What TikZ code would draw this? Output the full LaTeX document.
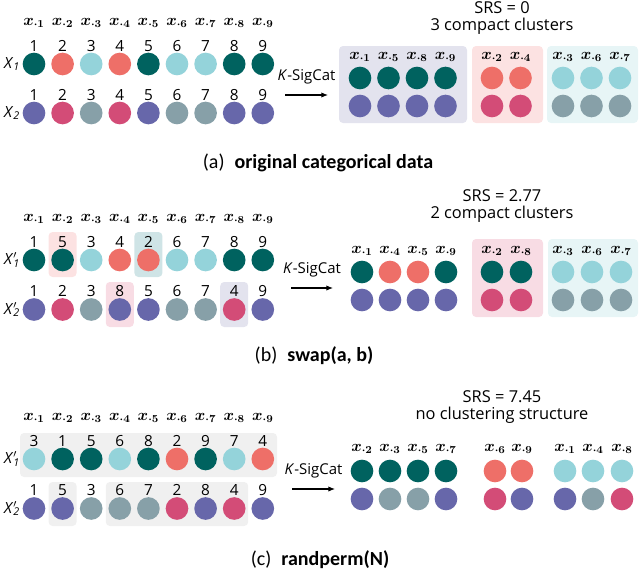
\documentclass[tikz,border=0pt]{standalone}
\usepackage{amsmath}
\usepackage{fontspec}
\setmainfont{Open Sans}
\newfontfamily\capfont{Carlito}
\usetikzlibrary{arrows.meta}

\definecolor{cTeal}{HTML}{00625F}
\definecolor{cSalmon}{HTML}{EE6F68}
\definecolor{cCyan}{HTML}{94D3DA}
\definecolor{cPurple}{HTML}{6767AA}
\definecolor{cMagenta}{HTML}{D34C77}
\definecolor{cGray}{HTML}{87A0A8}
\definecolor{bLav}{HTML}{E3E3EE}
\definecolor{bPink}{HTML}{FCE2E2}
\definecolor{bRose}{HTML}{F8DCE4}
\definecolor{bAqua}{HTML}{E7F5F6}
\definecolor{bTeal}{HTML}{CFE4E6}
\definecolor{bGray}{HTML}{F0F0F0}

\tikzset{
  dot/.style={circle, minimum size=17pt, inner sep=0pt, draw=none},
  every label/.style={inner sep=0.5pt, font=\fontsize{11.5}{13}\selectfont},
  xlab/.style={font=\fontsize{12}{14}\selectfont, inner sep=0pt},
  rowlab/.style={font=\fontsize{11.5}{13}\selectfont, inner sep=0pt},
  note/.style={font=\fontsize{12.3}{12.75}\selectfont, align=center, inner sep=0pt},
  kname/.style={font=\fontsize{11.2}{13}\selectfont, inner sep=0pt},
  capt/.style={font=\capfont\fontsize{15}{17}\selectfont, inner sep=0pt},
  cell/.style={rounded corners=3pt},
  kmap/.style={line width=0.8pt, -{Latex[length=5pt,width=4pt]}},
}

\begin{document}
\begin{tikzpicture}[x=0.75pt,y=-0.75pt]
\useasboundingbox (0,0) rectangle (640,571);

% (a)
\foreach \i in {1,...,9}
  \node[xlab] (ax\i) at ({34+28.6*(\i-1)},23) {$\boldsymbol{x_{\cdot\i}}$};
\node[rowlab] (aX1) at (12,64) {\textit{X}\textsubscript{\textit{1}}};
\node[rowlab] (aX2) at (12,113) {\textit{X}\textsubscript{\textit{2}}};
\foreach \n/\c [count=\i] in {1/cTeal,2/cSalmon,3/cCyan,4/cSalmon,5/cTeal,6/cCyan,7/cCyan,8/cTeal,9/cTeal}
  \node[dot,fill=\c,label=above:\n] (a1-\i) at ({34+28.6*(\i-1)},64) {};
\foreach \n/\c [count=\i] in {1/cPurple,2/cMagenta,3/cGray,4/cMagenta,5/cPurple,6/cGray,7/cGray,8/cPurple,9/cPurple}
  \node[dot,fill=\c,label=above:\n] (a2-\i) at ({34+28.6*(\i-1)},113) {};

\fill[bLav,cell] (339,46) rectangle (467,123);
\fill[bPink,cell] (472,46) rectangle (543,123);
\fill[bAqua,cell] (547,46) rectangle (638,123);
\node[note] (asrs) at (502,18) {SRS = 0\\3 compact clusters};
\foreach \j/\x/\ca/\cb in {1/360/cTeal/cPurple,5/388.5/cTeal/cPurple,8/417/cTeal/cPurple,9/445.5/cTeal/cPurple,
    2/492/cSalmon/cMagenta,4/520.5/cSalmon/cMagenta,3/563/cCyan/cGray,6/591.5/cCyan/cGray,7/620/cCyan/cGray}{
  \node[xlab] (rax\j) at (\x,57) {$\boldsymbol{x_{\cdot\j}}$};
  \node[dot,fill=\ca] (ra1-\j) at (\x,78) {};
  \node[dot,fill=\cb] (ra2-\j) at (\x,106) {};
}
\coordinate (aS) at (285,95);
\coordinate (aE) at (328,95);
\draw[kmap] (aS) -- node[kname,above=8pt] (ak) {\textit{K}-SigCat} (aE);
\node[capt] (capa) at (318,163) {(a)\enspace\textbf{original categorical data}};

% (b)
\fill[bPink,cell] (48.6,232) rectangle (76.6,277);
\fill[bTeal,cell] (134.4,232) rectangle (162.4,277);
\fill[bRose,cell] (105.8,282) rectangle (133.8,327);
\fill[bLav,cell] (220.2,282) rectangle (248.2,327);
\foreach \i in {1,...,9}
  \node[xlab] (bx\i) at ({34+28.6*(\i-1)},219) {$\boldsymbol{x_{\cdot\i}}$};
\node[rowlab] (bX1) at (12,260) {\textit{X}\rlap{$'$}\textsubscript{\textit{1}}};
\node[rowlab] (bX2) at (12,309.5) {\textit{X}\rlap{$'$}\textsubscript{\textit{2}}};
\foreach \n/\c [count=\i] in {1/cTeal,5/cTeal,3/cCyan,4/cSalmon,2/cSalmon,6/cCyan,7/cCyan,8/cTeal,9/cTeal}
  \node[dot,fill=\c,label=above:\n] (b1-\i) at ({34+28.6*(\i-1)},260) {};
\foreach \n/\c [count=\i] in {1/cPurple,2/cMagenta,3/cGray,8/cPurple,5/cPurple,6/cGray,7/cGray,4/cMagenta,9/cPurple}
  \node[dot,fill=\c,label=above:\n] (b2-\i) at ({34+28.6*(\i-1)},309.5) {};

\fill[bRose,cell] (472,239) rectangle (543,317);
\fill[bAqua,cell] (548,239) rectangle (638,317);
\node[note] (bsrs) at (502,206.5) {SRS = 2.77\\2 compact clusters};
\foreach \j/\x/\ca/\cb in {1/362/cTeal/cPurple,4/390/cSalmon/cPurple,5/418/cSalmon/cPurple,9/446/cTeal/cPurple,
    2/492/cTeal/cMagenta,8/521/cTeal/cMagenta,3/563/cCyan/cGray,6/592/cCyan/cGray,7/621/cCyan/cGray}{
  \node[xlab] (rbx\j) at (\x,251) {$\boldsymbol{x_{\cdot\j}}$};
  \node[dot,fill=\ca] (rb1-\j) at (\x,272) {};
  \node[dot,fill=\cb] (rb2-\j) at (\x,300) {};
}
\coordinate (bS) at (291,288);
\coordinate (bE) at (333,288);
\draw[kmap] (bS) -- node[kname,above=8pt] (bk) {\textit{K}-SigCat} (bE);
\node[capt] (capb) at (314,356) {(b)\enspace\textbf{swap(a, b)}};

% (c)
\fill[bGray,cell] (20,433) rectangle (277,477);
\fill[bGray,cell] (48.6,482) rectangle (76.6,526);
\fill[bGray,cell] (105.8,482) rectangle (248.2,526);
\foreach \i in {1,...,9}
  \node[xlab] (cx\i) at ({34+28.6*(\i-1)},418) {$\boldsymbol{x_{\cdot\i}}$};
\node[rowlab] (cX1) at (12,459) {\textit{X}\rlap{$'$}\textsubscript{\textit{1}}};
\node[rowlab] (cX2) at (12,508.5) {\textit{X}\rlap{$'$}\textsubscript{\textit{2}}};
\foreach \n/\c [count=\i] in {3/cCyan,1/cTeal,5/cTeal,6/cCyan,8/cTeal,2/cSalmon,9/cTeal,7/cCyan,4/cSalmon}
  \node[dot,fill=\c,label=above:\n] (c1-\i) at ({34+28.6*(\i-1)},459) {};
\foreach \n/\c [count=\i] in {1/cPurple,5/cPurple,3/cGray,6/cGray,7/cGray,2/cMagenta,8/cPurple,4/cMagenta,9/cPurple}
  \node[dot,fill=\c,label=above:\n] (c2-\i) at ({34+28.6*(\i-1)},508.5) {};

\node[note] (csrs) at (502,407) {SRS = 7.45\\no clustering structure};
\foreach \j/\x/\ca/\cb in {2/362/cTeal/cPurple,3/390/cTeal/cGray,5/418/cTeal/cGray,7/446/cTeal/cPurple,
    6/495/cSalmon/cMagenta,9/522/cSalmon/cPurple,1/565/cCyan/cPurple,4/593/cCyan/cGray,8/622/cCyan/cMagenta}{
  \node[xlab] (rcx\j) at (\x,449) {$\boldsymbol{x_{\cdot\j}}$};
  \node[dot,fill=\ca] (rc1-\j) at (\x,471) {};
  \node[dot,fill=\cb] (rc2-\j) at (\x,499) {};
}
\coordinate (cS) at (292,489);
\coordinate (cE) at (335,489);
\draw[kmap] (cS) -- node[kname,above=8pt] (ck) {\textit{K}-SigCat} (cE);
\node[capt] (capc) at (320,560) {(c)\enspace\textbf{randperm(N)}};
\end{tikzpicture}
\end{document}
